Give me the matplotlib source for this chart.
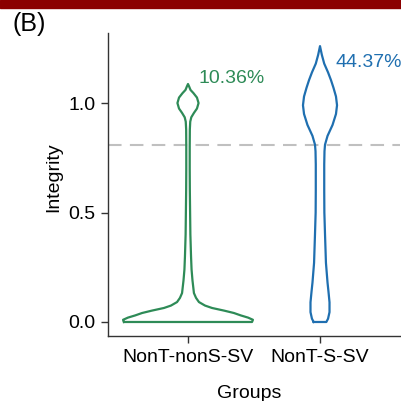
import numpy as np
import matplotlib
matplotlib.use("Agg")
import matplotlib.pyplot as plt
import matplotlib.transforms as mtransforms
from matplotlib.patches import Rectangle

plt.rcParams['font.family'] = ['Liberation Sans', 'DejaVu Sans']

categories = ["NonT-nonS-SV", "NonT-S-SV"]
colors = ["#2e8b57", "#1f6fb0"]
percent_labels = ["10.36%", "44.37%"]
threshold = 0.81

# violin outline profiles: integrity value -> half width (category units)
green_y = [0, 0.01, 0.02, 0.03, 0.041, 0.052, 0.064, 0.075, 0.091, 0.11, 0.132, 0.19, 0.24,
           0.3, 0.4, 0.5, 0.6, 0.7, 0.8, 0.88, 0.915, 0.935, 0.955, 0.975, 1.0, 1.025, 1.045,
           1.06, 1.075, 1.087]
green_hw = [0.485, 0.492, 0.455, 0.400, 0.348, 0.273, 0.182, 0.129, 0.083, 0.061, 0.045, 0.034,
            0.027, 0.023, 0.018, 0.016, 0.014, 0.013, 0.013, 0.014, 0.017, 0.025, 0.045, 0.068,
            0.080, 0.068, 0.042, 0.019, 0.009, 0.0]
blue_y = [0, 0.015, 0.045, 0.09, 0.14, 0.18, 0.27, 0.4, 0.5, 0.6, 0.72, 0.78, 0.81, 0.85, 0.9,
          0.95, 0.99, 1.03, 1.07, 1.105, 1.14, 1.18, 1.22, 1.26]
blue_hw = [0.048, 0.061, 0.072, 0.072, 0.064, 0.057, 0.045, 0.038, 0.033, 0.032, 0.032, 0.034,
           0.038, 0.057, 0.095, 0.121, 0.129, 0.121, 0.102, 0.083, 0.061, 0.032, 0.014, 0.0]
label_y = [1.114, 1.183]
label_dx = [0.076, 0.114]

profiles = [(green_y, green_hw), (blue_y, blue_hw)]
FS = 14

fig = plt.figure(figsize=(4.01, 4.01), dpi=100)
fig.patches.append(Rectangle((0, 1 - 8 / 401), 1, 8 / 401, transform=fig.transFigure,
                             color="#8b0000", zorder=0))
fig.text(12 / 401, 1 - 24.5 / 401, "(B)", fontsize=18, va="center", ha="left")

ax = fig.add_axes([108 / 401, 65 / 401, 292 / 401, (336 - 33) / 401])
ax.set_xlim(-0.606, 1.606)
ax.set_ylim(-0.064, 1.32)

ax.axhline(threshold, color="#c0c0c0", lw=1.5, ls=(0, (6.5, 4)), zorder=1)

for i, ((ys, hw), c) in enumerate(zip(profiles, colors)):
    ys = np.array(ys)
    hw = np.array(hw)
    xs = np.concatenate([i - hw, (i + hw)[::-1], [i - hw[0]]])
    yy = np.concatenate([ys, ys[::-1], [ys[0]]])
    ax.plot(xs, yy, color=c, lw=1.6, solid_joinstyle="round", zorder=3)
    ax.text(i + label_dx[i], label_y[i], percent_labels[i], color=c, fontsize=FS,
            va="center", ha="left", clip_on=False)

ax.set_xticks([0, 1])
ax.set_xticklabels(categories, fontsize=FS)
offsets = [-7.2, 6.8]
for lab, dx in zip(ax.get_xticklabels(), offsets):
    lab.set_transform(lab.get_transform() + mtransforms.ScaledTranslation(dx / 72, 0, fig.dpi_scale_trans))
ax.set_yticks([0.0, 0.5, 1.0])
ax.set_yticklabels(["0.0", "0.5", "1.0"], fontsize=FS)
ax.set_xlabel("Groups", fontsize=FS)
ax.set_ylabel("Integrity", fontsize=FS)
ax.xaxis.set_label_coords((249 - 108) / 292, -(385 - 336) / 303, transform=ax.transAxes)
ax.yaxis.set_label_coords(-(108 - 62) / 292, (336 - 177.5) / 303, transform=ax.transAxes)
ax.xaxis.label.set_va("top")
for s in ["top", "right"]:
    ax.spines[s].set_visible(False)
for s in ["left", "bottom"]:
    ax.spines[s].set_color("#333333")
    ax.spines[s].set_linewidth(1.0)
ax.tick_params(length=5, width=1, color="#333333", pad=4)

fig.savefig("out.png", dpi=100)
